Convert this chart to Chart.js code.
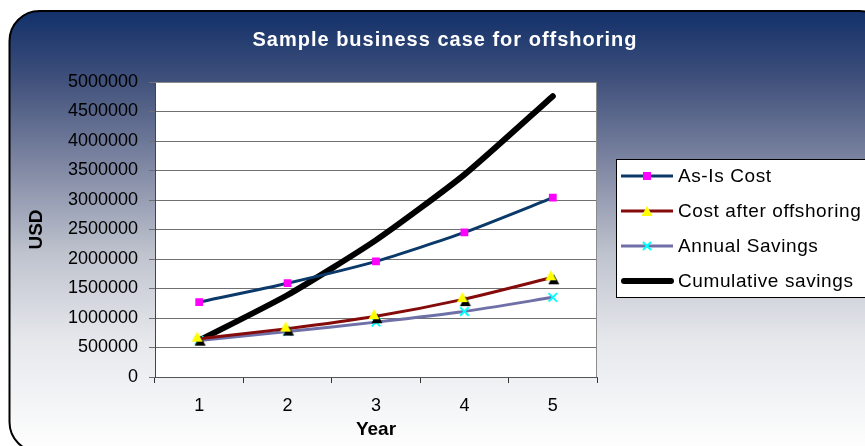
<!DOCTYPE html>
<html>
<head>
<meta charset="utf-8">
<title>Sample business case for offshoring</title>
<script src="https://cdn.jsdelivr.net/npm/chart.js@4.4.1/dist/chart.umd.min.js"></script>
<style>
  html, body { margin: 0; padding: 0; background: #ffffff; }
  #chart { display: block; }
</style>
</head>
<body>
<canvas id="chart" width="865" height="446"></canvas>
<script>
// ===================================
// DATA
// ===================================

const years = ['1', '2', '3', '4', '5'];
const asIsCost = [1270000, 1590000, 1960000, 2450000, 3040000];
const costAfterOffshoring = [650000, 820000, 1030000, 1320000, 1690000];
const annualSavings = [620000, 770000, 930000, 1110000, 1350000];
const cumulativeSavings = [620000, 1390000, 2320000, 3430000, 4760000];

const seriesLabels = ['As-Is Cost', 'Cost after offshoring', 'Annual Savings', 'Cumulative savings'];

const FONT = "'Liberation Sans', Arial, sans-serif";

// ===================================
// HELPERS
// ===================================

// yellow triangle with a small black drop shadow, used as a point image
function makeTriangleMarker(withShadow) {
  const c = document.createElement('canvas');
  c.width = 18;
  c.height = 18;
  const g = c.getContext('2d');
  const tri = (dx, dy, color) => {
    g.beginPath();
    g.moveTo(7 + dx, 2 + dy);
    g.lineTo(12.5 + dx, 12 + dy);
    g.lineTo(1.5 + dx, 12 + dy);
    g.closePath();
    g.fillStyle = color;
    g.fill();
  };
  if (withShadow) tri(3, 4, '#000000');
  tri(0, 0, '#ffff00');
  return c;
}

function roundRect(ctx, x, y, w, h, r) {
  ctx.beginPath();
  ctx.moveTo(x + r, y);
  ctx.lineTo(x + w - r, y);
  ctx.arcTo(x + w, y, x + w, y + r, r);
  ctx.lineTo(x + w, y + h - r);
  ctx.arcTo(x + w, y + h, x + w - r, y + h, r);
  ctx.lineTo(x + r, y + h);
  ctx.arcTo(x, y + h, x, y + h - r, r);
  ctx.lineTo(x, y + r);
  ctx.arcTo(x, y, x + r, y, r);
  ctx.closePath();
}

function drawLegendMarker(ctx, kind, x, y) {
  ctx.save();
  if (kind === 'square') {
    ctx.fillStyle = '#ff00ff';
    ctx.fillRect(x - 4, y - 4, 8, 8);
  } else if (kind === 'triangle') {
    ctx.beginPath();
    ctx.moveTo(x, y - 5);
    ctx.lineTo(x + 5.5, y + 5);
    ctx.lineTo(x - 5.5, y + 5);
    ctx.closePath();
    ctx.fillStyle = '#ffff00';
    ctx.fill();
  } else if (kind === 'cross') {
    ctx.strokeStyle = '#00ffff';
    ctx.lineWidth = 2;
    ctx.beginPath();
    ctx.moveTo(x - 4, y - 4);
    ctx.lineTo(x + 4, y + 4);
    ctx.moveTo(x + 4, y - 4);
    ctx.lineTo(x - 4, y + 4);
    ctx.stroke();
  }
  ctx.restore();
}

// ===================================
// PLUGINS
// ===================================

// rounded gradient frame, title and white plot area
const framePlugin = {
  id: 'frame',
  beforeDraw(chart) {
    const ctx = chart.ctx;
    const area = chart.chartArea;
    ctx.save();
    const grad = ctx.createLinearGradient(0, 11, 0, 452);
    grad.addColorStop(0, '#12306a');
    grad.addColorStop(0.15, '#3e4f7a');
    grad.addColorStop(0.35, '#7f87a3');
    grad.addColorStop(0.55, '#bfc3ce');
    grad.addColorStop(0.75, '#e6e8ec');
    grad.addColorStop(1, '#ffffff');
    roundRect(ctx, 9.5, 11, 880, 441, 30);
    ctx.fillStyle = grad;
    ctx.fill();
    ctx.lineWidth = 2;
    ctx.strokeStyle = '#000000';
    ctx.stroke();

    ctx.fillStyle = '#ffffff';
    ctx.font = 'bold 20px ' + FONT;
    ctx.letterSpacing = '1px';
    ctx.textAlign = 'center';
    ctx.textBaseline = 'middle';
    ctx.fillText('Sample business case for offshoring', 445, 40);
    ctx.letterSpacing = '0px';

    ctx.fillStyle = '#ffffff';
    ctx.fillRect(area.left, area.top, area.right - area.left, area.bottom - area.top);
    ctx.restore();
  },
  beforeDatasetsDraw(chart) {
    const ctx = chart.ctx;
    const area = chart.chartArea;
    ctx.save();
    ctx.strokeStyle = '#8c8c8c';
    ctx.lineWidth = 1;
    ctx.beginPath();
    ctx.moveTo(area.left, area.top + 0.5);
    ctx.lineTo(area.right - 0.5, area.top + 0.5);
    ctx.lineTo(area.right - 0.5, area.bottom);
    ctx.stroke();
    ctx.restore();
  }
};

// boxed legend at the right, like the original spreadsheet chart
const boxLegendPlugin = {
  id: 'boxLegend',
  afterDraw(chart) {
    const ctx = chart.ctx;
    const markers = ['square', 'triangle', 'cross', null];
    ctx.save();
    ctx.fillStyle = '#ffffff';
    ctx.fillRect(616, 159, 260, 139);
    ctx.strokeStyle = '#000000';
    ctx.lineWidth = 1;
    ctx.strokeRect(616.5, 159.5, 260, 138);

    chart.data.datasets.forEach((ds, i) => {
      const y = 176 + i * 35;
      ctx.strokeStyle = ds.borderColor;
      ctx.lineWidth = i === 3 ? 6 : 3;
      ctx.lineCap = i === 3 ? 'round' : 'butt';
      ctx.beginPath();
      ctx.moveTo(i === 3 ? 624 : 621, y);
      ctx.lineTo(i === 3 ? 671 : 673, y);
      ctx.stroke();
      if (markers[i]) drawLegendMarker(ctx, markers[i], 647, y);
      ctx.fillStyle = '#000000';
      ctx.font = '19px ' + FONT;
      ctx.letterSpacing = '0.6px';
      ctx.textAlign = 'left';
      ctx.textBaseline = 'middle';
      ctx.fillText(ds.label, 678, y + 1);
      ctx.letterSpacing = '0px';
    });
    ctx.restore();
  }
};

// ===================================
// CHART
// ===================================

const ctx = document.getElementById('chart');

new Chart(ctx, {
  type: 'line',
  data: {
    labels: years,
    datasets: [
      {
        label: seriesLabels[0],
        data: asIsCost,
        borderColor: '#0b3a6a',
        borderWidth: 3,
        tension: 0.2,
        pointStyle: 'rect',
        pointRadius: 5.5,
        pointBackgroundColor: '#ff00ff',
        pointBorderColor: '#ff00ff',
        pointBorderWidth: 0
      },
      {
        label: seriesLabels[1],
        data: costAfterOffshoring,
        borderColor: '#850a0a',
        borderWidth: 3,
        tension: 0.2,
        pointStyle: makeTriangleMarker(true),
        pointRadius: 6
      },
      {
        label: seriesLabels[2],
        data: annualSavings,
        borderColor: '#7070a8',
        borderWidth: 3,
        tension: 0.2,
        pointStyle: 'crossRot',
        pointRadius: 6,
        pointBorderColor: '#00ffff',
        pointBorderWidth: 2
      },
      {
        label: seriesLabels[3],
        data: cumulativeSavings,
        borderColor: '#000000',
        borderWidth: 6,
        borderCapStyle: 'round',
        tension: 0.2,
        pointRadius: 0
      }
    ]
  },
  options: {
    responsive: false,
    animation: false,
    layout: {
      padding: { top: 82, left: 8, right: 268, bottom: 0 }
    },
    plugins: {
      legend: { display: false },
      title: { display: false },
      tooltip: { enabled: false }
    },
    scales: {
      x: {
        offset: true,
        afterFit(scale) { scale.height = 69; },
        grid: {
          offset: true,
          drawOnChartArea: false,
          drawTicks: true,
          tickLength: 6,
          color: '#333333'
        },
        border: { color: '#555555', width: 1 },
        ticks: {
          color: '#000000',
          padding: 12,
          font: { family: FONT, size: 18 }
        },
        title: {
          display: true,
          text: 'Year',
          color: '#000000',
          padding: { top: 0, bottom: 5 },
          font: { family: FONT, size: 19, weight: 'bold' }
        }
      },
      y: {
        min: 0,
        max: 5000000,
        afterFit(scale) { scale.width = 147; },
        grid: {
          color: '#707070',
          lineWidth: 1,
          tickLength: 6
        },
        border: { color: '#444444', width: 1 },
        ticks: {
          stepSize: 500000,
          color: '#000000',
          padding: 11,
          font: { family: FONT, size: 18 },
          callback: (v) => String(v)
        },
        title: {
          display: true,
          text: 'USD',
          color: '#000000',
          padding: { top: 17, bottom: 0 },
          font: { family: FONT, size: 19, weight: 'bold' }
        }
      }
    }
  },
  plugins: [framePlugin, boxLegendPlugin]
});
</script>
</body>
</html>
